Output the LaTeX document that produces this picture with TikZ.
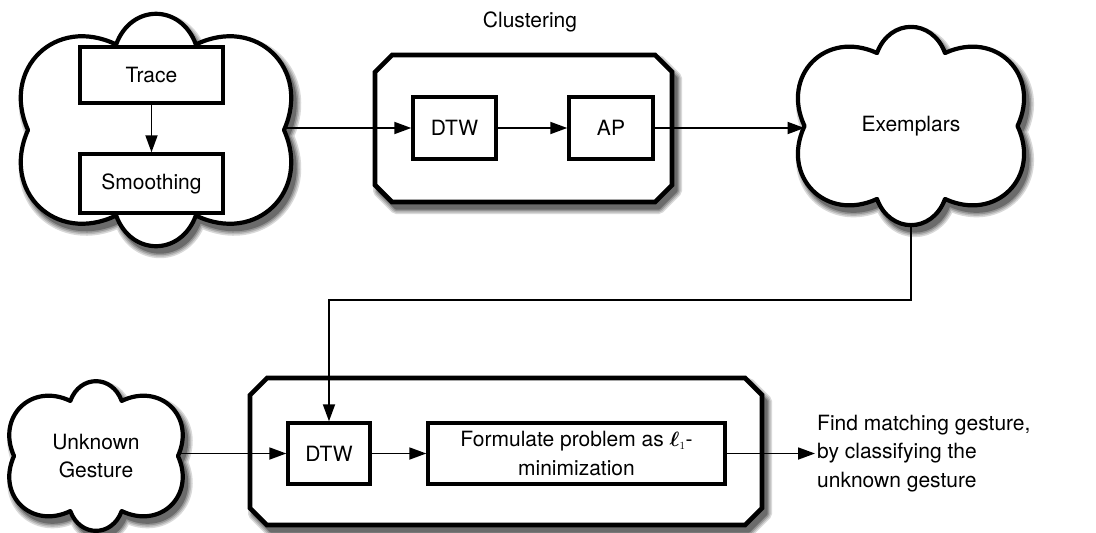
\documentclass[tikz,border=0pt]{standalone}
\usepackage{amsmath}
\usepackage{fontspec}
\setmainfont{TeX Gyre Heros}
\usetikzlibrary{shapes.geometric,arrows.meta}

\definecolor{shadowA}{gray}{0.85}
\definecolor{shadowB}{gray}{0.72}
\definecolor{shadowC}{gray}{0.58}
\definecolor{shadowD}{gray}{0.42}

\tikzset{
  frame/.style={draw=none, inner sep=0pt, outer sep=0pt},
  oval/.style={frame, ellipse},
  lobe/.style={bend right=70, looseness=1.4},
  shadowstack/.style={line join=round,
      preaction={draw=shadowA, fill=shadowA, line width=12pt, line join=round},
      preaction={draw=shadowB, fill=shadowB, line width=9pt, line join=round},
      preaction={draw=shadowC, fill=shadowC, line width=6pt, line join=round},
      draw=shadowD, fill=shadowD, line width=3pt},
  cloudline/.style={draw, line width=4.2pt, fill=white, line join=round},
  panelline/.style={draw, line width=4.6pt, fill=white, line join=miter},
  stepbox/.style={draw, line width=3.4pt, fill=white, inner sep=0pt, align=center},
  conn/.style={line width=1.8pt, -{Triangle[length=17pt, width=12pt]}},
}

% cloud of six puffs around the oval node #1, displaced by (#2,#3)
\newcommand\cloudpath[3]{%
  ([xshift=#2, yshift=#3]#1.0)
  to[lobe] ([xshift=#2, yshift=#3]#1.65)
  to[lobe] ([xshift=#2, yshift=#3]#1.115)
  to[lobe] ([xshift=#2, yshift=#3]#1.180)
  to[lobe] ([xshift=#2, yshift=#3]#1.245)
  to[lobe] ([xshift=#2, yshift=#3]#1.295)
  to[lobe] ([xshift=#2, yshift=#3]#1.0) -- cycle}

% chamfered frame around node #1, displaced by (#2,#3)
\newcommand\octagonpath[3]{%
  ([xshift=#2+17pt, yshift=#3]#1.north west) -- ([xshift=#2-17pt, yshift=#3]#1.north east)
  -- ([xshift=#2, yshift=#3-17pt]#1.north east) -- ([xshift=#2, yshift=#3+17pt]#1.south east)
  -- ([xshift=#2-17pt, yshift=#3]#1.south east) -- ([xshift=#2+17pt, yshift=#3]#1.south west)
  -- ([xshift=#2, yshift=#3+17pt]#1.south west) -- ([xshift=#2, yshift=#3-17pt]#1.north west)
  -- cycle}

\begin{document}
\begin{tikzpicture}[x=1pt, y=-1pt,
    font=\fontsize{21}{28.5}\selectfont]
  \fill[white] (0,0) rectangle (1096,533);
  \useasboundingbox (0,0) rectangle (1096,533);

  % outlines that the clouds and stage frames are built on
  \node[oval, minimum width=256pt, minimum height=180pt] (prep) at (156,130) {};
  \node[oval, minimum width=213pt, minimum height=154pt] (ex) at (911,126) {};
  \node[oval, minimum width=164pt, minimum height=116pt] (unk) at (96,456) {};
  \node[frame, minimum width=297pt, minimum height=147pt] (clus) at (523.5,128.5) {};
  \node[frame, minimum width=512pt, minimum height=147pt] (clas) at (506,451.5) {};

  % soft drop shadows
  \draw[shadowstack] \cloudpath{prep}{4pt}{-6pt};
  \draw[shadowstack] \cloudpath{ex}{4pt}{-6pt};
  \draw[shadowstack] \cloudpath{unk}{4pt}{-6pt};
  \draw[shadowstack] \octagonpath{clus}{4pt}{-6pt};
  \draw[shadowstack] \octagonpath{clas}{4pt}{-6pt};

  % preprocessing cloud
  \draw[cloudline] \cloudpath{prep}{0pt}{0pt};
  \node[stepbox, minimum width=143pt, minimum height=56pt] (trace) at (151.5,75) {Trace};
  \node[stepbox, minimum width=143pt, minimum height=59pt] (smooth) at (151.5,183.5) {Smoothing};
  \draw[conn] (trace) -- (smooth);

  % clustering stage
  \node (cluslabel) at (530,22) {Clustering};
  \draw[panelline] \octagonpath{clus}{0pt}{0pt};
  \node[stepbox, minimum width=83pt, minimum height=62pt] (dtwa) at (454.5,128) {DTW};
  \node[stepbox, minimum width=84pt, minimum height=62pt] (ap) at (611,128) {AP};

  % exemplars
  \draw[cloudline] \cloudpath{ex}{0pt}{0pt};
  \node (exlabel) at (ex.center) {Exemplars};
  \coordinate (exfoot) at ([yshift=-99pt]ex.center);

  % classification stage
  \draw[cloudline] \cloudpath{unk}{0pt}{0pt};
  \node[align=center] (unklabel) at (unk.center) {Unknown\\Gesture};
  \draw[panelline] \octagonpath{clas}{0pt}{0pt};
  \node[stepbox, minimum width=82pt, minimum height=61pt] (dtwb) at (329,453.5) {DTW};
  \node[stepbox, minimum width=297pt, minimum height=61pt] (form) at (576.5,453.5)
    {Formulate problem as $\boldsymbol{\ell}_{\scriptscriptstyle 1}$-\\minimization};
  \node[anchor=west, align=left, inner sep=2pt] (result) at (815,453.5)
    {Find matching gesture,\\by classifying the\\unknown gesture};

  % connectors
  \coordinate (turn) at (0,300);
  \draw[conn] (prep.east |- dtwa.west) -- (dtwa.west);
  \draw[conn] (dtwa) -- (ap);
  \draw[conn] (ap.east) -- (ap.east -| ex.west);
  \draw[conn] (exfoot) -- (exfoot |- turn) -| (dtwb.north);
  \draw[conn] (unk.east |- dtwb.west) -- (dtwb.west);
  \draw[conn] (dtwb) -- (form);
  \draw[conn] (form.east) -- (result.west);
\end{tikzpicture}
\end{document}
